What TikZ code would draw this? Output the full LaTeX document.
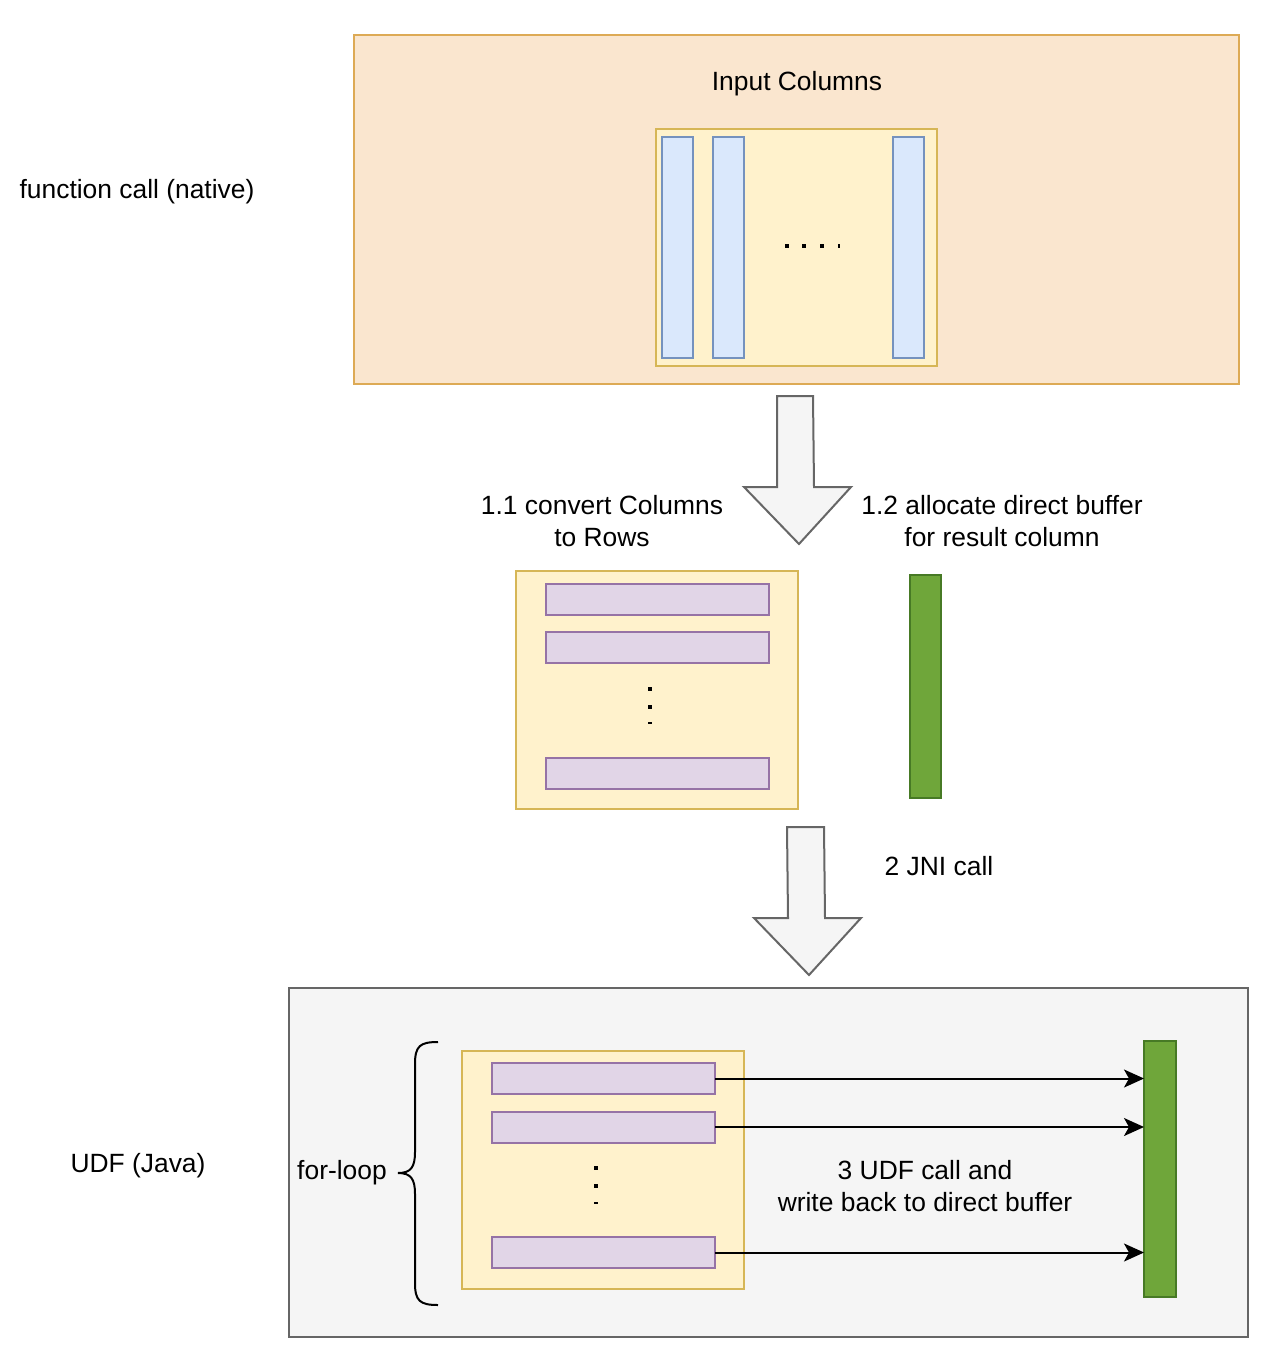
\documentclass[tikz,border=0pt]{standalone}
\usepackage{fontspec}
\setmainfont{Liberation Sans}
\usetikzlibrary{arrows.meta}
\definecolor{orfill}{HTML}{FAE6CF}
\definecolor{ordraw}{HTML}{DDAA55}
\definecolor{yefill}{HTML}{FFF2CC}
\definecolor{yedraw}{HTML}{D6B656}
\definecolor{blfill}{HTML}{DAE8FC}
\definecolor{bldraw}{HTML}{7592BE}
\definecolor{pufill}{HTML}{E1D5E7}
\definecolor{pudraw}{HTML}{9673A6}
\definecolor{grfill}{HTML}{6FA63A}
\definecolor{grdraw}{HTML}{477A25}
\definecolor{gyfill}{HTML}{F5F5F5}
\definecolor{gydraw}{HTML}{666666}
\tikzset{
  shp/.style={rectangle, inner sep=0pt, outer sep=0pt, line width=2pt},
  outerbox/.style={shp, draw=ordraw, fill=orfill},
  graybox/.style={shp, draw=gydraw, fill=gyfill},
  yelbox/.style={shp, draw=yedraw, fill=yefill},
  colbox/.style={shp, draw=bldraw, fill=blfill, minimum width=31pt, minimum height=221pt},
  rowbox/.style={shp, draw=pudraw, fill=pufill, minimum width=223pt, minimum height=31pt},
  greenbar/.style={shp, draw=grdraw, fill=grfill},
  lbl/.style={inner sep=0pt, align=center, font=\fontsize{26.4}{32}\selectfont},
  blockarrow/.style={draw=gydraw, fill=gyfill, line width=2pt, line join=miter},
  dot/.style={fill=black},
  conn/.style={line width=2pt, -{Stealth[length=20pt,width=18pt,inset=5pt]}},
  bracestyle/.style={line width=2pt}
}
\begin{document}
\begin{tikzpicture}[x=1pt,y=-1pt]
\useasboundingbox (0,0) rectangle (1270,1362);

% ---- top section ----
\node[outerbox, minimum width=885pt, minimum height=349pt] (top) at (796.5,209.5) {};
\node[lbl] (inputcols) at (797,84) {Input Columns};
\node[yelbox, minimum width=281pt, minimum height=237pt] (topin) at (796.5,247.5) {};
\node[colbox] (c1) at (677.5,247.5) {};
\node[colbox] (c2) at (728.5,247.5) {};
\node[colbox] (c3) at (908.5,247.5) {};
\fill[dot] (785,244) rectangle (789,248);
\fill[dot] (802,244) rectangle (806,248);
\fill[dot] (820,244) rectangle (824,248);
\fill[dot] (838,244) rectangle (840,248);
\node[lbl] (native) at (137,192) {function call (native)};

% ---- arrow 1 ----
\draw[blockarrow] (777,396) -- (813,396) -- (814,487) -- (851,487) -- (799,544) -- (744,487) -- (777,487) -- cycle;
\node[lbl] (conv) at (602,521) {1.1 convert Columns\\to Rows};
\node[lbl] (alloc) at (1002,521) {1.2 allocate direct buffer\\for result column};

% ---- middle section ----
\node[yelbox, minimum width=282pt, minimum height=238pt] (mid) at (657,690) {};
\node[rowbox] (m1) at (657.5,599) {};
\node[rowbox] (m2) at (657.5,647) {};
\node[rowbox] (m3) at (657.5,773) {};
\fill[dot] (648,687) rectangle (652,691);
\fill[dot] (648,705) rectangle (652,709);
\fill[dot] (648,722) rectangle (652,724);
\node[greenbar, minimum width=31pt, minimum height=223pt] (g1) at (925.5,686.5) {};

% ---- arrow 2 ----
\draw[blockarrow] (787,827) -- (824,827) -- (825,918) -- (861,918) -- (809,975) -- (754,918) -- (788,918) -- cycle;
\node[lbl] (jni) at (939,866) {2 JNI call};

% ---- bottom section ----
\node[graybox, minimum width=959pt, minimum height=349pt] (bot) at (768.5,1162.5) {};
\node[lbl] (udf) at (138,1166) {UDF (Java)};
\node[yelbox, minimum width=282pt, minimum height=238pt] (botin) at (603,1170) {};
\node[rowbox] (b1) at (603.5,1078.5) {};
\node[rowbox] (b2) at (603.5,1127) {};
\node[rowbox] (b3) at (603.5,1252.5) {};
\fill[dot] (594,1166) rectangle (598,1170);
\fill[dot] (594,1184) rectangle (598,1188);
\fill[dot] (594,1202) rectangle (598,1204);
\node[greenbar, minimum width=32pt, minimum height=256pt] (g2) at (1160,1169) {};
\coordinate (t1) at (g2.west |- b1.east);
\coordinate (t2) at (g2.west |- b2.east);
\coordinate (t3) at (g2.west |- b3.east);
\draw[conn] (b1.east) -- (t1);
\draw[conn] (b2.east) -- (t2);
\draw[conn] (b3.east) -- (t3);
\node[lbl] (udfcall) at (925,1186) {3 UDF call and\\write back to direct buffer};

% brace
\node[lbl] (forloop) at (342,1173) {for-loop};
\coordinate (bt) at (438,1042);
\coordinate (bb) at (438,1305);
\coordinate (bm) at (398,1173);
\draw[bracestyle] (bt) .. controls (420,1042) and (415,1046) .. (415,1064) -- (415,1152)
  .. controls (415,1167) and (411,1173) .. (bm)
  .. controls (411,1173) and (415,1179) .. (415,1194) -- (415,1283)
  .. controls (415,1301) and (420,1305) .. (bb);
\end{tikzpicture}
\end{document}
